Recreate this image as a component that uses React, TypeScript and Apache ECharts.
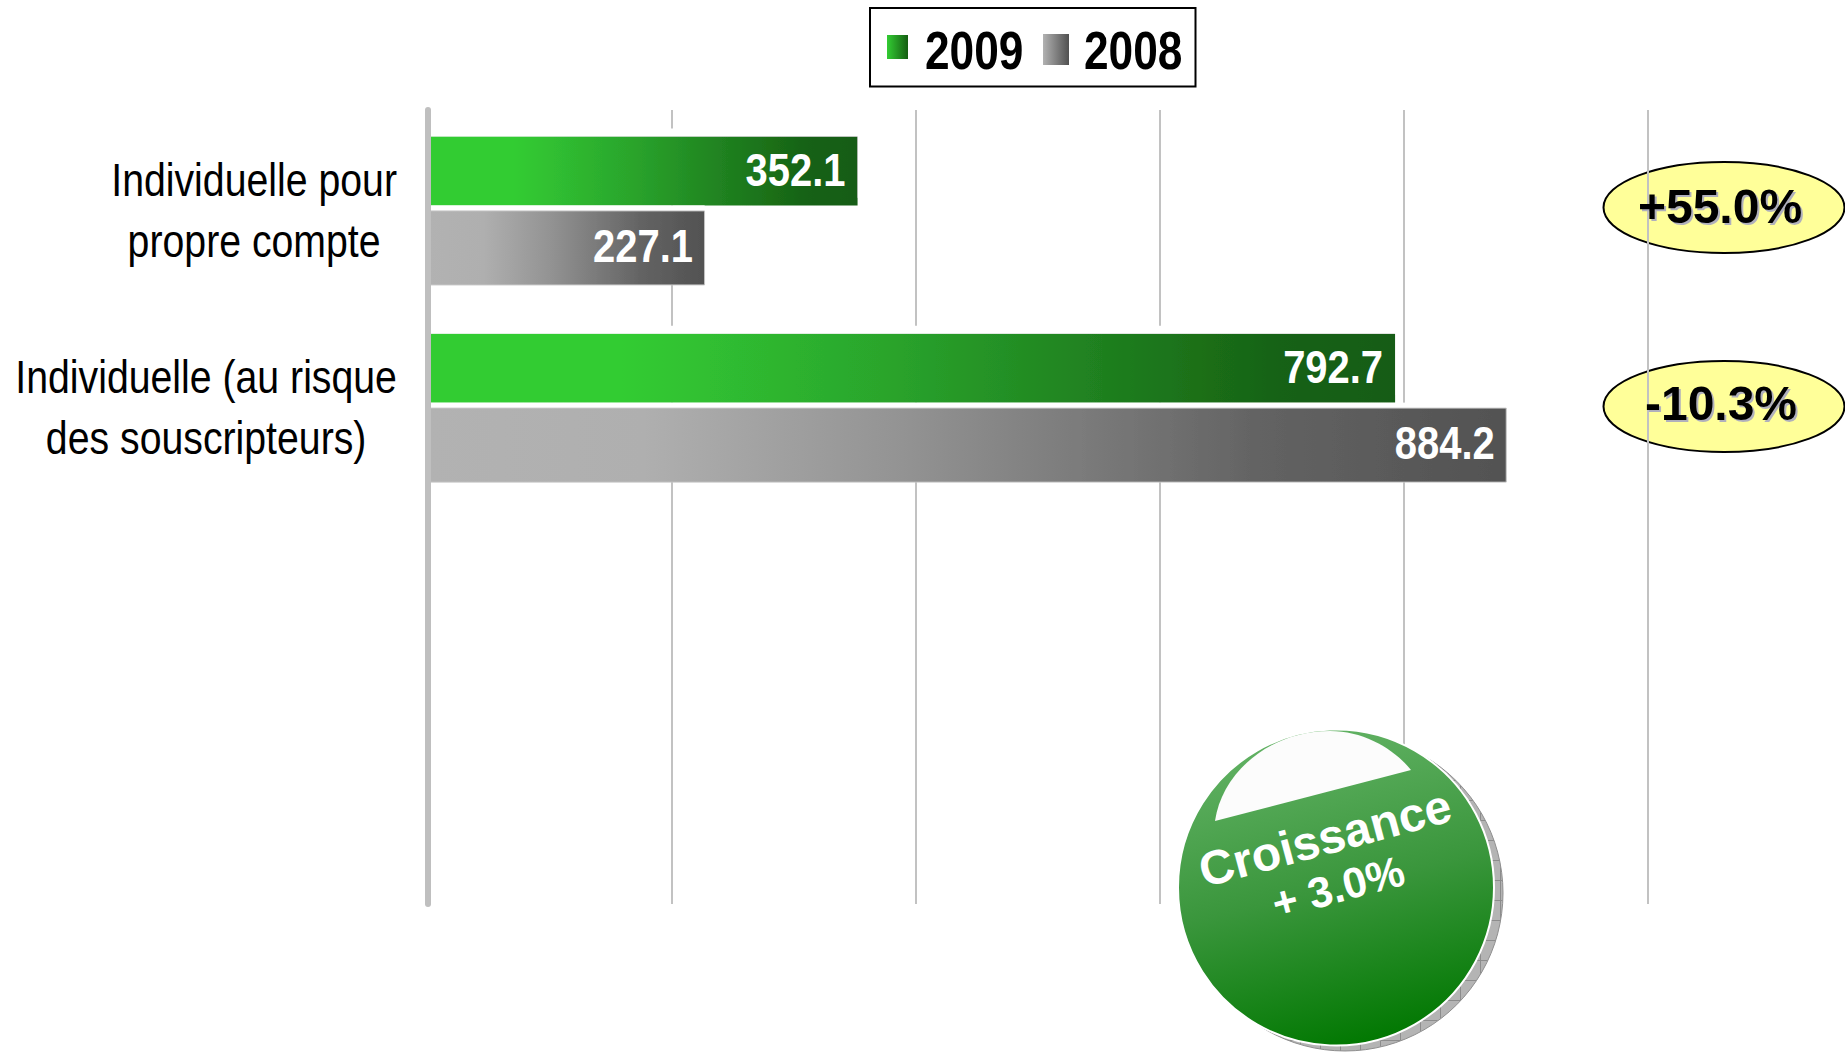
import React, { useEffect, useRef } from "react";
import * as echarts from "echarts";

const years = ["2009", "2008"];
const categories = ["Individuelle pour\npropre compte", "Individuelle (au risque\ndes souscripteurs)", "", ""];
const values2009 = [352.1, 792.7, null, null];
const values2008 = [227.1, 884.2, null, null];
const growthBadges = ["+55.0%", "-10.3%"];
const growthTitle = "Croissance";
const growthValue = "+ 3.0%";

const SANS = '"Liberation Sans", Arial, sans-serif';
const NARROW = 0.82;

echarts.graphic.registerShape(
  "gloss",
  echarts.graphic.extendPath("M1215 821 C1222 772 1270 731 1330 731 C1365 731 1395 750 1411 770 Z", {})
);

const hGrad = (stops: [number, string][]) => ({
  type: "linear", x: 0, y: 0, x2: 1, y2: 0,
  colorStops: stops.map(([offset, color]) => ({ offset, color })),
});
const greenFill = hGrad([[0, "#33cc33"], [0.2, "#33cc33"], [0.47, "#2aa52c"], [0.7, "#1f7f1f"], [0.88, "#176213"], [1, "#165c12"]]);
const greyFill = hGrad([[0, "#b2b2b2"], [0.2, "#afafaf"], [0.44, "#939393"], [0.77, "#636363"], [1, "#525252"]]);

function hatchTile() {
  const c = document.createElement("canvas");
  c.width = 20;
  c.height = 20;
  const g = c.getContext("2d")!;
  g.fillStyle = "#b4b4b4";
  g.fillRect(0, 0, 20, 20);
  g.strokeStyle = "#8c8c8c";
  g.lineWidth = 1;
  g.strokeRect(0.5, 0.5, 20, 20);
  return c;
}

const valueLabels = (offsetY: number) => (params: any, api: any) => {
  const v = api.value(0);
  const p = api.coord([v, api.value(1)]);
  return {
    type: "text",
    x: p[0] - 12,
    y: p[1] + offsetY,
    scaleX: 0.85,
    style: {
      text: v.toFixed(1), fill: "#fff", fontFamily: SANS, fontWeight: "bold", fontSize: 47,
      textAlign: "right", textVerticalAlign: "middle",
    },
  };
};

const categoryLabels = (params: any, api: any) => {
  const idx = api.value(0);
  const p = api.coord([0, idx]);
  return {
    type: "text",
    x: 397,
    y: p[1] - 1,
    scaleX: 0.835,
    style: {
      text: categories[idx].split("\n").map((l) => `{c|${l}}`).join("\n"),
      textAlign: "right",
      textVerticalAlign: "middle",
      rich: { c: { fontFamily: SANS, fontSize: 47, lineHeight: 61, fill: "#000", align: "center" } },
    },
  };
};

function badge(cy: number, text: string, textDy: number, textDx: number) {
  return [
    {
      type: "ellipse", z: -1,
      shape: { cx: 1724, cy, rx: 120.5, ry: 45.5 },
      style: { fill: "#ffff99", stroke: "#000", lineWidth: 2 },
    },
    {
      type: "text", z: 20, x: 1720 + textDx, y: cy + textDy,
      style: {
        text, fontFamily: SANS, fontWeight: "bold", fontSize: 48, fill: "#000",
        textAlign: "center", textVerticalAlign: "middle",
      },
    },
  ];
}

function legendText(x: number, text: string) {
  return {
    type: "text", z: 20, x, y: 50, scaleX: NARROW,
    style: {
      text, fontFamily: SANS, fontWeight: "bold", fontSize: 54, fill: "#000",
      textAlign: "left", textVerticalAlign: "middle",
    },
  };
}

export default function App() {
  const ref = useRef<HTMLDivElement>(null);
  useEffect(() => {
    document.body.style.margin = "0";
    const chart = echarts.init(ref.current!, null, { renderer: "svg" });
    const tilt = (15 * Math.PI) / 180;
    const shadeBadges = () => {
      ref.current?.querySelectorAll("text").forEach((t) => {
        if (growthBadges.includes((t.textContent || "").trim())) {
          (t as unknown as HTMLElement).style.filter = "drop-shadow(2px 2px 0 #b0b0bc)";
        }
      });
    };
    chart.on("finished", shadeBadges);
    chart.setOption({
      animation: false,
      backgroundColor: "#fff",
      grid: [
        { left: 428, width: 1220, top: 110, height: 794, outerBoundsMode: "none" },
        { left: 428, width: 1220, top: 112.4, height: 788.8, outerBoundsMode: "none" },
      ],
      xAxis: [
        {
          gridIndex: 0, type: "value", min: 0, max: 1000, interval: 200,
          axisLabel: { show: false }, axisTick: { show: false }, axisLine: { show: false },
          splitLine: { show: true, lineStyle: { color: "#c2c2c2", width: 2 } },
        },
        {
          gridIndex: 1, type: "value", min: 0, max: 1000, interval: 200, show: false,
          splitLine: { show: false },
        },
      ],
      yAxis: [
        {
          gridIndex: 0, type: "category", data: [""], z: 5,
          axisLabel: { show: false }, axisTick: { show: false }, splitLine: { show: false },
          axisLine: { show: true, lineStyle: { color: "#bfbfbf", width: 6, cap: "round" } },
        },
        {
          gridIndex: 1, type: "category", data: categories, inverse: true,
          axisLine: { show: false }, axisTick: { show: false }, splitLine: { show: false },
          axisLabel: { show: false },
        },
      ],
      series: [
        {
          name: years[0], type: "bar", xAxisIndex: 1, yAxisIndex: 1, data: values2009,
          barWidth: 69, barGap: "7%",
          itemStyle: { color: greenFill, shadowColor: "#ffffff", shadowOffsetY: -8, shadowBlur: 0 },
        },
        {
          name: years[1], type: "bar", xAxisIndex: 1, yAxisIndex: 1, data: values2008,
          barWidth: 75, barGap: "7%",
          itemStyle: { color: greyFill, borderColor: "#c4c4c4", borderWidth: 1, shadowColor: "#ffffff", shadowOffsetY: -5, shadowBlur: 0 },
        },
        {
          type: "custom", xAxisIndex: 1, yAxisIndex: 1, z: 6, silent: true,
          encode: { x: 0, y: 1 },
          data: values2009.map((v, i) => [v, i]).filter((d) => d[0] != null),
          renderItem: valueLabels(-41),
        },
        {
          type: "custom", xAxisIndex: 1, yAxisIndex: 1, z: 6, silent: true,
          encode: { x: 0, y: 1 },
          data: values2008.map((v, i) => [v, i]).filter((d) => d[0] != null),
          renderItem: valueLabels(35),
        },
        {
          type: "custom", xAxisIndex: 1, yAxisIndex: 1, z: 6, silent: true,
          encode: { y: 0 },
          data: categories.map((c, i) => [i]).filter((d) => categories[d[0]] !== ""),
          renderItem: categoryLabels,
        },
      ],
      graphic: [
        {
          type: "rect", z: 15, shape: { x: 870, y: 8, width: 325.5, height: 78.5 },
          style: { fill: "#fff", stroke: "#000", lineWidth: 2 },
        },
        { type: "rect", z: 16, shape: { x: 887, y: 35, width: 21, height: 24 }, style: { fill: hGrad([[0, "#33cc33"], [1, "#155e12"]]) } },
        legendText(925, years[0]),
        { type: "rect", z: 16, shape: { x: 1043, y: 34, width: 26, height: 31 }, style: { fill: hGrad([[0, "#b2b2b2"], [1, "#505050"]]) } },
        legendText(1084, years[1]),
        ...badge(207.5, growthBadges[0], -1, 0),
        ...badge(406.5, growthBadges[1], -3, 1),
        {
          type: "circle", z: 10, shape: { cx: 1345, cy: 893, r: 158 },
          style: { fill: { image: hatchTile(), repeat: "repeat" }, stroke: "#8f8f8f", lineWidth: 1 },
        },
        {
          type: "circle", z: 11, shape: { cx: 1336, cy: 887.5, r: 158 },
          style: {
            stroke: "#fff", lineWidth: 2,
            fill: {
              type: "linear", x: 0.38, y: 0, x2: 0.62, y2: 1,
              colorStops: [{ offset: 0, color: "#62b264" }, { offset: 0.5, color: "#3a963c" }, { offset: 1, color: "#007700" }],
            },
          },
        },
        { type: "gloss", z: 12, x: 0, y: 0, style: { fill: "#fcfcfc" } },
        {
          type: "text", z: 13, x: 1325, y: 838, rotation: tilt,
          style: {
            text: growthTitle, fontFamily: SANS, fontWeight: "bold", fontSize: 48, fill: "#fff",
            textAlign: "center", textVerticalAlign: "middle",
          },
        },
        {
          type: "text", z: 13, x: 1338, y: 887, rotation: tilt,
          style: {
            text: growthValue, fontFamily: SANS, fontWeight: "bold", fontSize: 43, fill: "#fff",
            textAlign: "center", textVerticalAlign: "middle",
          },
        },
      ],
    });
    shadeBadges();
    return () => chart.dispose();
  }, []);
  return <div ref={ref} style={{ position: "fixed", left: 0, top: 0, width: 1845, height: 1052 }} />;
}
